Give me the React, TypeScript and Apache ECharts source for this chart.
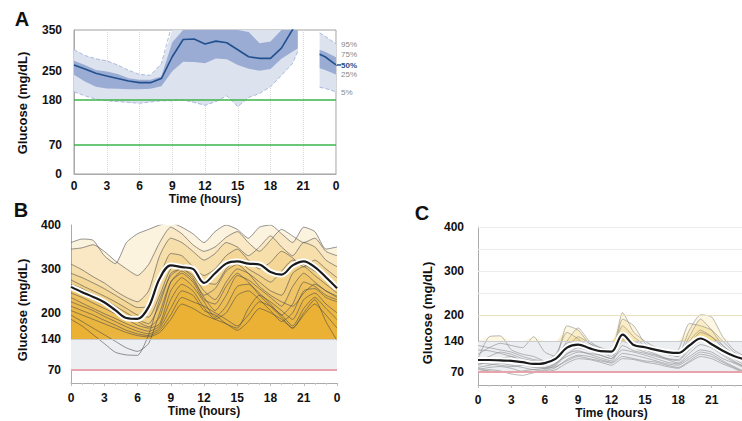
import React, { useEffect, useRef } from "react";
import * as echarts from "echarts";

// ---------- Panel A : percentile profile ----------
const aHoursL = [0, 1, 2, 3, 4, 5, 6, 7, 8, 9, 10, 11, 12, 13, 14, 15, 16, 17, 18, 19, 20, 20.5];
const aP95L = [302, 288, 280, 275, 265, 252, 242, 240, 268, 365, 385, 385, 385, 385, 385, 385, 385, 385, 385, 385, 385, 385];
const aP75L = [275, 265, 253, 249, 243, 233, 229, 229, 237, 320, 380, 380, 380, 380, 380, 370, 345, 318, 322, 355, 380, 380];
const aP50L = [265, 255, 245, 238, 232, 226, 222, 222, 232, 285, 327, 328, 316, 323, 319, 302, 285, 281, 281, 306, 350, 375];
const aP25L = [241, 225, 212, 208, 207, 206, 206, 207, 213, 250, 273, 272, 269, 281, 279, 265, 256, 251, 255, 280, 297, 305];
const aP5L = [200, 190, 182, 178, 176, 174, 172, 175, 178, 178, 180, 174, 167, 176, 190, 164, 186, 196, 212, 240, 268, 298];

const aHoursR = [22.5, 23, 24];
const aP95R = [343, 335, 316];
const aP75R = [302, 297, 284];
const aP50R = [291, 285, 265];
const aP25R = [257, 253, 242];
const aP5R = [211, 208, 200];

const aYLabels = [0, 70, 180, 250, 350];
const aTargets = [180, 70];
const aPctLabels = ["95%", "75%", "50%", "25%", "5%"];

// ---------- Panel B : individual days (poor control) ----------
const hours24 = [0, 1, 2, 3, 4, 5, 6, 7, 8, 9, 10, 11, 12, 13, 14, 15, 16, 17, 18, 19, 20, 21, 22, 23, 24];
const bMedian = [259, 247, 236, 224, 206, 188, 186, 213, 278, 308, 304, 300, 268, 290, 312, 317, 312, 310, 293, 287, 308, 317, 304, 281, 256];
const bDay1 = [360, 368, 365, 330, 312, 360, 380, 390, 400, 405, 395, 380, 360, 385, 400, 390, 370, 395, 400, 380, 360, 395, 385, 345, 350];
const bDay2 = [345, 348, 355, 340, 318, 300, 285, 310, 360, 395, 380, 355, 340, 350, 372, 385, 360, 340, 365, 390, 375, 360, 370, 340, 330];
const bDay3 = [311, 298, 282, 268, 250, 235, 225, 250, 330, 370, 360, 340, 320, 335, 360, 350, 330, 350, 375, 350, 330, 360, 350, 320, 305];
const bDay4 = [290, 280, 268, 255, 240, 225, 212, 215, 280, 335, 330, 305, 285, 300, 330, 345, 320, 300, 315, 340, 325, 305, 320, 300, 280];
const bDay5 = [275, 262, 250, 238, 225, 210, 195, 190, 240, 300, 310, 295, 270, 265, 300, 320, 300, 285, 270, 295, 320, 310, 295, 280, 260];
const bDay6 = [265, 255, 242, 230, 215, 200, 185, 175, 220, 290, 300, 285, 250, 230, 270, 300, 290, 270, 250, 240, 290, 305, 285, 265, 245];
const bDay7 = [255, 242, 230, 218, 205, 192, 180, 168, 190, 270, 295, 275, 235, 205, 240, 285, 275, 255, 235, 215, 260, 290, 270, 250, 238];
const bDay8 = [245, 235, 222, 210, 198, 185, 172, 165, 175, 250, 280, 260, 225, 190, 215, 260, 265, 245, 220, 195, 220, 270, 260, 240, 230];
const bDay9 = [235, 222, 210, 198, 187, 175, 165, 158, 170, 230, 265, 250, 212, 186, 200, 240, 250, 230, 205, 180, 200, 250, 255, 235, 225];
const bDay10 = [225, 215, 205, 192, 180, 168, 158, 152, 165, 210, 250, 240, 205, 195, 175, 165, 210, 240, 225, 205, 185, 230, 245, 220, 200];
const bDay11 = [215, 205, 195, 183, 172, 160, 152, 148, 160, 195, 235, 225, 215, 200, 185, 170, 195, 225, 215, 195, 170, 210, 235, 210, 185];
const bDay12 = [205, 195, 185, 175, 165, 155, 148, 145, 155, 185, 220, 210, 195, 185, 175, 160, 180, 210, 200, 185, 165, 195, 220, 195, 165];
const bDay13 = [195, 180, 165, 150, 135, 120, 112, 130, 200, 270, 290, 270, 230, 220, 260, 290, 270, 240, 215, 190, 165, 200, 230, 180, 137];
const bDay14 = [185, 170, 150, 130, 110, 104, 103, 150, 230, 285, 300, 280, 240, 255, 295, 310, 290, 260, 240, 225, 215, 245, 265, 250, 235];
const bDays = [bDay1, bDay2, bDay3, bDay4, bDay5, bDay6, bDay7, bDay8, bDay9, bDay10, bDay11, bDay12, bDay13, bDay14];

// ---------- Panel C : individual days (good control) ----------
const cMedian = [97, 97, 96, 95, 92, 88, 90, 100, 125, 132, 124, 117, 116, 155, 131, 126, 120, 115, 113, 130, 146, 133, 118, 106, 98];
const cDay1 = [100, 150, 152, 120, 110, 105, 95, 110, 160, 145, 125, 115, 110, 190, 175, 135, 120, 110, 105, 150, 190, 165, 130, 110, 100];
const cDay2 = [110, 125, 135, 130, 125, 150, 115, 105, 175, 165, 135, 125, 115, 205, 160, 140, 125, 115, 110, 165, 200, 195, 150, 120, 105];
const cDay3 = [95, 105, 115, 110, 100, 95, 90, 100, 140, 170, 140, 125, 120, 175, 150, 130, 125, 115, 120, 180, 175, 165, 140, 115, 100];
const cDay4 = [85, 95, 100, 105, 95, 90, 85, 95, 125, 150, 135, 120, 110, 160, 135, 120, 115, 110, 105, 140, 165, 150, 125, 105, 90];
const cDay5 = [80, 85, 90, 92, 88, 82, 80, 90, 118, 130, 125, 115, 105, 145, 125, 115, 108, 100, 98, 125, 150, 140, 120, 100, 85];
const cDay6 = [75, 80, 82, 78, 70, 68, 75, 85, 110, 125, 118, 108, 100, 140, 128, 120, 110, 100, 95, 120, 140, 130, 112, 95, 80];
const cDay7 = [88, 92, 90, 85, 80, 75, 78, 88, 112, 118, 110, 102, 95, 130, 118, 112, 105, 98, 90, 112, 132, 125, 108, 92, 82];
const cDay8 = [120, 118, 112, 105, 95, 88, 85, 92, 105, 115, 112, 108, 100, 120, 115, 108, 100, 92, 88, 105, 120, 115, 100, 90, 78];
const cDay9 = [70, 75, 72, 65, 62, 68, 72, 80, 98, 108, 105, 98, 92, 112, 108, 102, 95, 88, 85, 100, 115, 110, 95, 82, 70];
const cDay10 = [92, 88, 85, 82, 85, 80, 78, 82, 95, 105, 100, 95, 90, 105, 100, 95, 92, 85, 80, 95, 110, 105, 92, 80, 68];
const cDay11 = [78, 72, 70, 68, 72, 75, 70, 75, 90, 100, 98, 92, 85, 100, 98, 92, 88, 82, 78, 92, 105, 100, 88, 78, 65];
const cDay12 = [130, 125, 120, 115, 105, 98, 95, 105, 135, 140, 130, 120, 112, 150, 140, 128, 118, 110, 108, 130, 160, 150, 130, 110, 95];
const cDays = [cDay1, cDay2, cDay3, cDay4, cDay5, cDay6, cDay7, cDay8, cDay9, cDay10, cDay11, cDay12];

const bcYLabels = [70, 140, 200, 300, 400];
const targetLow = 70;
const targetHigh = 140;
const cGridLines = [250, 300, 350, 400];

const FONT = "Liberation Sans, Arial, sans-serif";

const pairs = (xs: number[], ys: number[]) => xs.map((x, i) => [x, ys[i]]);

function xAxisCfg(gridIndex: number, nameGap: number, minor: boolean) {
  return {
    gridIndex,
    type: "value",
    min: 0,
    max: 24,
    interval: 3,
    name: "Time (hours)",
    nameLocation: "middle",
    nameGap,
    nameTextStyle: { fontFamily: FONT, fontWeight: "bold", fontSize: 12, color: "#111" },
    axisLine: { show: true, lineStyle: { color: "#aaa", width: 1 } },
    axisTick: { show: minor, length: 3, lineStyle: { color: "#bbb" } },
    minorTick: { show: minor, splitNumber: 3, length: 2, lineStyle: { color: "#ccc" } },
    axisLabel: {
      fontFamily: FONT,
      fontWeight: "bold",
      fontSize: 12,
      color: "#111",
      margin: minor ? 9 : 6,
      formatter: (v: number) => (v === 24 ? "0" : String(v)),
    },
    splitLine: { show: !minor, lineStyle: { color: "#d9d9d9", type: "dotted" } },
  };
}

function yAxisCfg(gridIndex: number, min: number, max: number, labels: number[], margin: number) {
  return {
    gridIndex,
    type: "value",
    min,
    max,
    interval: 10,
    axisLine: { show: true, lineStyle: { color: "#aaa", width: 1 } },
    axisTick: { show: false },
    splitLine: { show: false },
    axisLabel: {
      fontFamily: FONT,
      fontWeight: "bold",
      fontSize: 12,
      color: "#111",
      margin,
      formatter: (v: number) => (labels.includes(v) ? String(v) : ""),
    },
  };
}

function buildOption() {
  const series: any[] = [];
  const light = "#dde2ef";
  const dark = "#9aacd4";
  const edge = { color: "#aab9dd", width: 1, type: "dashed" };
  const A_MAX = 350;

  // band polygon between two percentile curves, drawn through the axis scales
  const band = (hrs: number[], lo: number[], hi: number[], color: string, z: number) => ({
    type: "custom",
    xAxisIndex: 0,
    yAxisIndex: 0,
    silent: true,
    clip: true,
    z,
    data: hrs.map((h, i) => [h, lo[i], hi[i]]),
    renderItem: (params: any, api: any) => {
      if (params.dataIndex !== 0) return null;
      const top = hrs.map((h, i) => api.coord([h, Math.min(hi[i], A_MAX)]));
      const bot = hrs.map((h, i) => api.coord([h, Math.min(lo[i], A_MAX)])).reverse();
      return { type: "polygon", shape: { points: [...top, ...bot] }, style: { fill: color, stroke: null } };
    },
  });

  const bandSet = (
    hrs: number[],
    p5: number[],
    p25: number[],
    p50: number[],
    p75: number[],
    p95: number[],
    withMarks: boolean
  ) => {
    series.push(band(hrs, p5, p95, light, 2));
    series.push(band(hrs, p25, p75, dark, 3));
    const lineCommon = { type: "line", xAxisIndex: 0, yAxisIndex: 0, symbol: "none", silent: true, z: 4 };
    series.push({ ...lineCommon, data: pairs(hrs, p5), lineStyle: edge });
    series.push({ ...lineCommon, data: pairs(hrs, p95), lineStyle: edge });
    const med: any = {
      ...lineCommon,
      z: 5,
      data: pairs(hrs, p50),
      lineStyle: { color: "#22508f", width: 1.6 },
    };
    if (withMarks) {
      med.markLine = {
        silent: true,
        symbol: "none",
        label: { show: false },
        lineStyle: { color: "#3cb44b", width: 1.5, type: "solid" },
        data: aTargets.map((v) => ({ yAxis: v })),
      };
    }
    series.push(med);
  };
  bandSet(aHoursL, aP5L, aP25L, aP50L, aP75L, aP95L, true);
  bandSet(aHoursR, aP5R, aP25R, aP50R, aP75R, aP95R, false);

  // Panels B and C
  const dayPanel = (
    axis: number,
    days: number[][],
    median: number[],
    fill: string,
    lineColor: string,
    extraLines: number[]
  ) => {
    series.push({
      type: "line",
      xAxisIndex: axis,
      yAxisIndex: axis,
      data: [],
      silent: true,
      markArea: {
        silent: true,
        itemStyle: { color: "#eceef1" },
        data: [[{ yAxis: targetLow }, { yAxis: targetHigh }]],
      },
      markLine: {
        silent: true,
        symbol: "none",
        label: { show: false },
        data: [
          { yAxis: targetLow, lineStyle: { color: "#e9a3ad", width: 2, type: "solid" } },
          { yAxis: targetHigh, lineStyle: { color: "#c9cbce", width: 1, type: "solid" } },
          ...extraLines.map((v) => ({ yAxis: v, lineStyle: { color: "#ececec", width: 1, type: "solid" } })),
          ...(extraLines.length ? [{ yAxis: 200, lineStyle: { color: "#eadfc0", width: 1, type: "solid" } }] : []),
        ],
      },
    });
    days.forEach((d) => {
      series.push({
        type: "line",
        xAxisIndex: axis,
        yAxisIndex: axis,
        symbol: "none",
        smooth: 0.2,
        silent: true,
        z: 3,
        data: pairs(hours24, d.map((v) => Math.max(v, targetHigh))),
        lineStyle: { width: 0 },
        areaStyle: { color: fill, origin: targetHigh },
      });
    });
    days.forEach((d) => {
      series.push({
        type: "line",
        xAxisIndex: axis,
        yAxisIndex: axis,
        symbol: "none",
        smooth: 0.2,
        silent: true,
        z: 4,
        data: pairs(hours24, d),
        lineStyle: { color: lineColor, width: 0.6 },
      });
    });
    series.push({
      type: "line",
      xAxisIndex: axis,
      yAxisIndex: axis,
      symbol: "none",
      smooth: 0.35,
      silent: true,
      z: 5,
      data: pairs(hours24, median),
      lineStyle: { color: "#ffffff", width: 6 },
    });
    series.push({
      type: "line",
      xAxisIndex: axis,
      yAxisIndex: axis,
      symbol: "none",
      smooth: 0.35,
      silent: true,
      z: 6,
      data: pairs(hours24, median),
      lineStyle: { color: "#1a1a1a", width: 2.2 },
    });
  };
  dayPanel(1, bDays, bMedian, "rgba(232,172,28,0.2)", "#4d4d4d", []);
  dayPanel(2, cDays, cMedian, "rgba(240,196,60,0.22)", "#8a8a8a", cGridLines);

  const txt = (text: string, x: number, y: number, size: number, extra: any = {}) => ({
    type: "text",
    x,
    y,
    silent: true,
    style: {
      text,
      fontFamily: FONT,
      fontSize: size,
      fontWeight: "bold",
      fill: "#111",
      align: "center",
      verticalAlign: "middle",
      ...extra,
    },
  });
  const pctY = [44, 54, 65, 74, 92];

  return {
    animation: false,
    backgroundColor: "#ffffff",
    grid: [
      { left: 74, top: 30, width: 262, height: 144, show: true, borderColor: "#a0a0a0", borderWidth: 1, backgroundColor: "transparent", outerBoundsMode: "none" },
      { left: 71, top: 225, width: 266, height: 158, outerBoundsMode: "none" },
      { left: 478, top: 227, width: 267, height: 158, outerBoundsMode: "none" },
    ],
    xAxis: [xAxisCfg(0, 17, false), xAxisCfg(1, 22, true), xAxisCfg(2, 20, true)],
    yAxis: [yAxisCfg(0, 0, 350, aYLabels, 12), yAxisCfg(1, 40, 400, bcYLabels, 10), yAxisCfg(2, 40, 400, bcYLabels, 14)],
    series,
    graphic: [
      txt("A", 22, 19, 20),
      txt("B", 21, 210, 20),
      txt("C", 422, 213, 20),
      { ...txt("Glucose (mg/dL)", 22, 103, 13), rotation: Math.PI / 2 },
      { ...txt("Glucose (mg/dL)", 22, 310, 13), rotation: Math.PI / 2 },
      { ...txt("Glucose (mg/dL)", 427, 313, 13), rotation: Math.PI / 2 },
      ...aPctLabels.map((t, i) =>
        txt(t, 341, pctY[i], 8, {
          align: "left",
          fontWeight: t === "50%" ? "bold" : "normal",
          fill: t === "50%" ? "#22508f" : "#888",
        })
      ),
      {
        type: "line",
        silent: true,
        shape: { x1: 336, y1: 65, x2: 341, y2: 65 },
        style: { stroke: "#22508f", lineWidth: 1.5 },
      },
    ],
  };
}

export default function App() {
  const ref = useRef<HTMLDivElement>(null);
  useEffect(() => {
    if (!ref.current) return;
    const chart = echarts.init(ref.current, null, { renderer: "svg" });
    chart.setOption(buildOption() as any);
    return () => chart.dispose();
  }, []);
  return <div ref={ref} style={{ position: "absolute", left: 0, top: 0, width: 742, height: 421 }} />;
}
